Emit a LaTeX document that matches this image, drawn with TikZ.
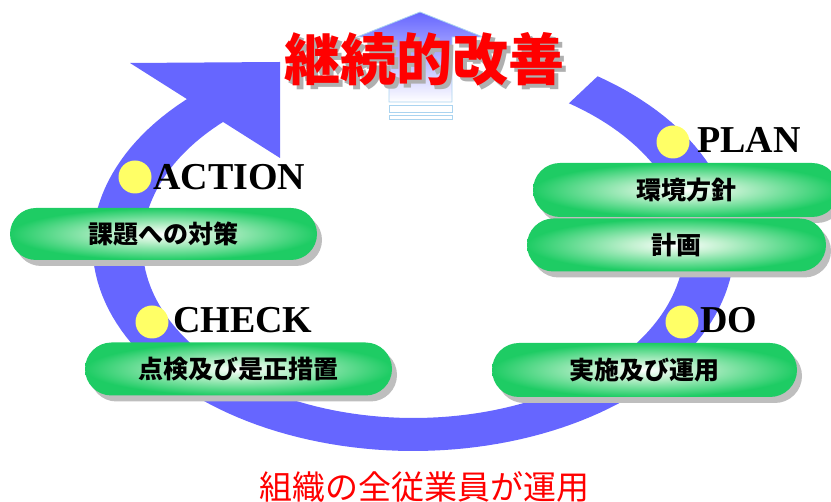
\documentclass[tikz,border=0pt]{standalone}
\usepackage{fontspec}
\usetikzlibrary{shapes.misc}
\newfontfamily\cjk{Noto Sans CJK JP}
\newfontfamily\tnr{Liberation Serif}
\definecolor{bandblue}{RGB}{102,102,255}
\definecolor{pillgreen}{RGB}{30,204,100}
\definecolor{pilllight}{RGB}{190,240,205}
\definecolor{dotyellow}{RGB}{255,255,102}
\definecolor{shadowgray}{RGB}{190,190,190}
\definecolor{arrowline}{RGB}{170,212,240}
\definecolor{titlered}{RGB}{255,0,0}
\definecolor{titleshadow}{RGB}{175,175,175}
\pgfdeclareradialshading{pillshade}{\pgfpoint{0bp}{0bp}}{color(0bp)=(white); color(8bp)=(pilllight); color(25bp)=(pillgreen); color(50bp)=(pillgreen)}
\tikzset{
  pill/.style={rounded rectangle, shade, shading=pillshade, inner sep=0pt, text=black,
    font=\cjk\bfseries\fontsize{25}{30}\selectfont},
  pillsh/.style={rounded rectangle, fill=shadowgray, inner sep=0pt},
  dot/.style={circle, fill=dotyellow, minimum size=33pt, inner sep=0pt},
  phase/.style={font=\tnr\bfseries\fontsize{38}{40}\selectfont, inner sep=0pt, anchor=base west, text=black},
  titlefont/.style={font=\cjk\bfseries\fontsize{56}{60}\selectfont, inner sep=0pt},
  arrowedge/.style={draw=arrowline, line width=0.8pt},
}
\newcommand\mkpill[6]{%
  \node[pillsh, minimum width=#4pt, minimum height=#5pt] (#1sh) at (#2+5,#3+6) {};
  \node[pill, minimum width=#4pt, minimum height=#5pt] (#1) at (#2,#3) {#6};
}
\begin{document}
\begin{tikzpicture}[x=1pt,y=-1pt]
\useasboundingbox (0,0) rectangle (831,502);
% blue cycle band
\fill[bandblue] plot[domain=-55:226.5,samples=140] ({413.5+321*cos(\x)},{245+206*sin(\x)})
  -- plot[domain=226.5:-55,samples=140] ({413.5+271*cos(\x)},{245+173*sin(\x)}) -- cycle;
\fill[bandblue] (130,63) -- (280,62) -- (280,158) -- cycle;
% title arrow
\path[top color=bandblue, bottom color=white, arrowedge]
  (420,12) -- (483,37) -- (452,37) -- (452,102) -- (389,102) -- (389,37) -- (357,37) -- cycle;
\path[fill=white, arrowedge] (389,105) rectangle (452,112);
\path[fill=white, arrowedge] (389,115) rectangle (452,119);
% title
\node[titlefont, text=titleshadow] (titlesh) at (428,63) {継続的改善};
\node[titlefont, text=titlered] (title) at (424,59) {継続的改善};
% pills
\mkpill{act}{163.5}{234}{307}{52}{課題への対策}
\mkpill{planA}{686}{190}{306}{54}{環境方針}
\mkpill{planB}{676.5}{245}{299}{53}{計画}
\mkpill{chk}{238.5}{369}{307}{53}{点検及び是正措置}
\mkpill{do}{644.5}{370}{305}{54}{実施及び運用}
% dots and phase labels
\node[dot] (dA) at (135,177) {};
\node[phase] (lA) at (153,190) {ACTION};
\node[dot] (dP) at (673,142) {};
\node[phase] (lP) at (697,153) {PLAN};
\node[dot] (dC) at (152,322) {};
\node[phase] (lC) at (173,333) {CHECK};
\node[dot] (dD) at (682,322) {};
\node[phase] (lD) at (700,333) {DO};
% footer
\node[font=\cjk\fontsize{33}{36}\selectfont, text=titlered, inner sep=0pt, anchor=base] (foot) at (424,500) {組織の全従業員が運用};
\end{tikzpicture}
\end{document}
